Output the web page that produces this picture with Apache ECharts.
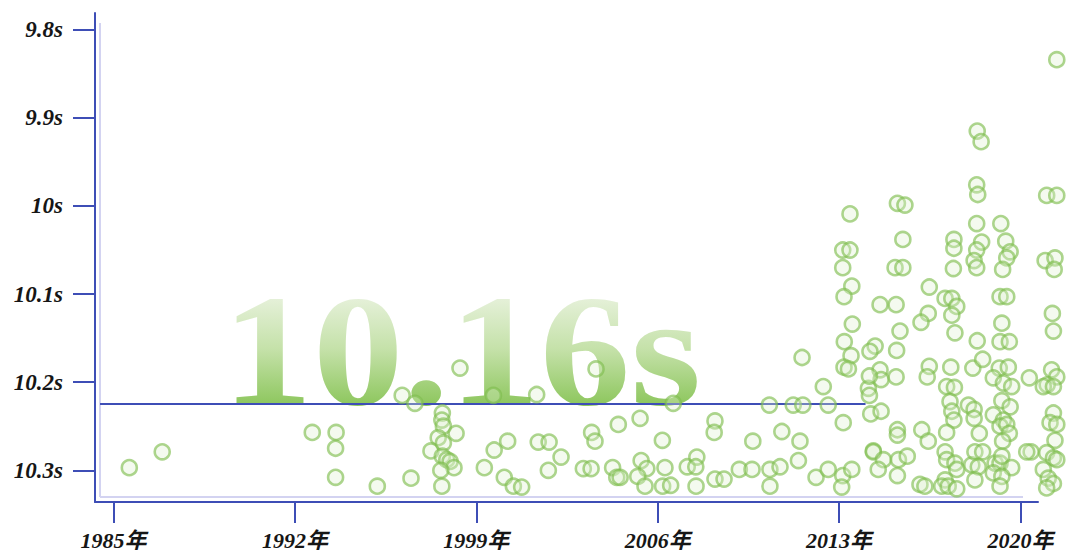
<!DOCTYPE html>
<html>
<head>
<meta charset="utf-8">
<script src="https://cdn.jsdelivr.net/npm/echarts@6/dist/echarts.min.js"></script>
<style>html,body{margin:0;padding:0;background:#fff}#c{width:1080px;height:558px}</style>
</head>
<body>
<svg width="0" height="0" style="position:absolute;left:0;top:0">
  <defs>
    <linearGradient id="headGrad" x1="0" y1="0" x2="0" y2="1">
      <stop offset="0" stop-color="#f1f7ea"/>
      <stop offset="0.2" stop-color="#e6f1da"/>
      <stop offset="0.5" stop-color="#c4e1a8"/>
      <stop offset="0.8" stop-color="#8fc760"/>
      <stop offset="1" stop-color="#86c255"/>
    </linearGradient>
  </defs>
</svg>
<div id="c"></div>
<script>
// Year of each result and its 100m time (seconds)
const years = [
1985.61,1986.88,1992.67,1993.59,1993.57,1993.57,1995.18,1996.14,1996.63,1996.48,
1997.69,1997.67,1997.73,1997.53,1997.25,1997.73,1997.69,1997.86,1997.99,1998.14,
1997.63,1997.67,1998.22,1999.31,1999.69,1999.66,1998.37,2001.33,2003.62,2006.60,
2005.32,2004.48,2008.21,2000.21,2000.08,2000.43,2000.75,2001.39,2001.81,2001.78,
2002.27,2003.13,2003.43,2003.45,2003.58,2004.26,2004.42,2004.55,2005.36,2005.58,
2005.23,2005.51,2006.18,2006.28,2006.19,2006.50,2007.14,2007.51,2007.47,2007.48,
2008.18,2008.21,2008.56,2009.15,2009.64,2009.67,2010.31,2010.79,2010.33,2010.72,
2010.33,2011.23,2011.60,2011.49,2011.43,2012.39,2012.58,2013.16,2012.11,2012.58,
2013.14,2013.49,2013.10,2014.13,2014.17,2014.22,2014.32,2011.57,
2021.40,2018.33,2018.48,2018.31,2018.35,2021.01,2021.40,2013.42,2015.25,2015.54,
2015.46,2018.31,2019.24,2017.43,2017.43,2018.50,2018.31,2019.43,2019.60,2019.47,
2018.21,2018.31,2019.31,2013.14,2013.42,2013.14,2015.16,2015.46,2017.41,2020.95,
2021.33,2021.30,
2013.49,2013.19,2014.58,2015.20,2016.48,2017.09,2017.35,2017.54,2017.35,2016.44,
2016.16,2019.21,2019.47,2021.23,2013.51,2015.35,2017.47,2019.28,2018.33,2019.21,
2019.57,2021.27,2013.20,2015.22,2014.39,2014.19,2013.46,2013.19,2013.36,2014.58,
2014.62,2014.17,2015.20,2016.48,2016.40,2017.31,2018.16,2018.54,2017.15,2017.45,
2019.18,2019.53,2018.95,2019.34,2019.66,2020.34,2021.20,2021.40,2021.03,2020.88,
2021.27,2017.28,2017.35,2017.43,2017.99,2018.21,2018.21,2019.28,2019.60,2018.95,
2019.34,2019.21,2019.47,2019.57,2019.31,2014.62,2015.25,2015.25,2016.19,2016.44,
2017.15,2018.41,2021.27,2021.14,2021.40,2021.33,2020.41,2020.24,2021.01,2021.27,
2021.40,2020.88,2021.07,2021.27,2021.01,2014.32,2014.71,2014.51,2015.29,2015.63,
2015.25,2016.12,2016.31,2017.09,2017.15,2017.47,2017.54,2018.12,2018.24,2018.54,
2018.37,2018.24,2019.02,2019.21,2019.28,2019.66,2018.95,2019.28,2019.21,2017.09,
2016.96,2017.21,2017.54
];
const times = [
10.297,10.279,10.257,10.257,10.275,10.308,10.318,10.215,10.224,10.309,
10.235,10.243,10.250,10.263,10.278,10.269,10.284,10.288,10.290,10.297,
10.300,10.318,10.258,10.297,10.277,10.215,10.184,10.214,10.185,10.224,
10.241,10.248,10.244,10.267,10.308,10.318,10.319,10.268,10.268,10.300,
10.285,10.298,10.298,10.257,10.267,10.297,10.308,10.308,10.289,10.298,
10.307,10.318,10.266,10.297,10.318,10.317,10.296,10.285,10.296,10.318,
10.257,10.310,10.310,10.299,10.299,10.267,10.226,10.256,10.299,10.296,
10.318,10.226,10.226,10.267,10.289,10.205,10.226,10.246,10.308,10.299,
10.306,10.299,10.319,10.207,10.215,10.236,10.278,10.172,
9.834,9.915,9.927,9.976,9.987,9.988,9.988,10.009,9.997,9.999,
10.038,10.020,10.020,10.038,10.048,10.041,10.050,10.040,10.052,10.059,
10.062,10.070,10.072,10.050,10.050,10.070,10.070,10.070,10.071,10.062,
10.059,10.072,
10.091,10.103,10.112,10.112,10.092,10.105,10.105,10.114,10.124,10.122,
10.132,10.103,10.103,10.122,10.134,10.142,10.144,10.133,10.153,10.154,
10.154,10.142,10.154,10.164,10.159,10.165,10.170,10.183,10.185,10.186,
10.197,10.193,10.194,10.182,10.194,10.183,10.184,10.174,10.205,10.206,
10.184,10.183,10.195,10.201,10.205,10.195,10.186,10.194,10.203,10.205,
10.205,10.222,10.233,10.243,10.226,10.231,10.241,10.221,10.228,10.237,
10.243,10.250,10.248,10.258,10.267,10.233,10.254,10.260,10.254,10.267,
10.257,10.258,10.235,10.246,10.248,10.266,10.279,10.279,10.280,10.286,
10.288,10.299,10.309,10.315,10.320,10.279,10.288,10.299,10.288,10.284,
10.306,10.316,10.318,10.279,10.288,10.292,10.299,10.294,10.279,10.279,
10.296,10.311,10.292,10.292,10.284,10.297,10.303,10.307,10.318,10.311,
10.318,10.318,10.321
];
const yTicks = [9.8, 9.9, 10, 10.1, 10.2, 10.3];
const xTicks = [1985, 1992, 1999, 2006, 2013, 2020];
const headline = '10.16s';
const guideLine = {from: 1984.48, to: 2014.02, time: 10.2245};

const points = years.map((y, i) => [y, times[i]]);

const chart = echarts.init(document.getElementById('c'), null, {renderer: 'svg'});
const blue = '#3e4eb6';
const labelFont = {
  fontFamily: "'Liberation Serif','Noto Sans CJK SC',serif",
  fontWeight: 'bold', fontStyle: 'italic', color: '#161616'
};
chart.setOption({
  animation: false,
  backgroundColor: '#ffffff',
  grid: {left: 95, right: 42, top: 13, bottom: 56, outerBoundsMode: 'none', containLabel: false},
  xAxis: {
    type: 'value', min: 1984.286, max: 2020.675,
    axisLine: {show: true, lineStyle: {color: blue, width: 2}},
    axisTick: {show: true, length: 21, customValues: xTicks, lineStyle: {color: blue, width: 2}},
    axisLabel: Object.assign({customValues: xTicks, margin: 27, fontSize: 22, formatter: v => v + '年'}, labelFont),
    splitLine: {show: false}
  },
  yAxis: {
    type: 'value', inverse: true, min: 9.781, max: 10.336,
    axisLine: {show: true, lineStyle: {color: blue, width: 2}},
    axisTick: {show: true, length: 22, customValues: yTicks, lineStyle: {color: blue, width: 2}},
    axisLabel: Object.assign({customValues: yTicks, margin: 32, fontSize: 23,
      formatter: v => String(+(+v).toFixed(1)) + 's'}, labelFont),
    splitLine: {show: false}
  },
  graphic: [
    {type: 'line', z: 0, shape: {x1: 100, y1: 23, x2: 100, y2: 497},
     style: {stroke: '#d3d3f1', lineWidth: 2}},
    {type: 'line', z: 0, shape: {x1: 100, y1: 497, x2: 1023, y2: 497},
     style: {stroke: '#d3d3f1', lineWidth: 2}},
    {type: 'text', z: 0, x: 222, y: 350, scaleX: 1.135,
     style: {
       text: headline,
       font: 'bold 160px "Liberation Serif"',
       verticalAlign: 'middle', align: 'left',
       fill: 'url(#headGrad)'
     }}
  ],
  series: [{
    type: 'scatter',
    data: points,
    clip: false,
    symbol: 'circle',
    symbolSize: 15,
    z: 5,
    itemStyle: {color: 'rgba(222,240,204,0.4)', borderColor: 'rgba(126,190,78,0.8)', borderWidth: 2.6},
    markLine: {
      silent: true, symbol: 'none', animation: false,
      label: {show: false},
      lineStyle: {color: blue, width: 2, type: 'solid'},
      data: [[{coord: [guideLine.from, guideLine.time]}, {coord: [guideLine.to, guideLine.time]}]]
    }
  }]
});
</script>
</body>
</html>
